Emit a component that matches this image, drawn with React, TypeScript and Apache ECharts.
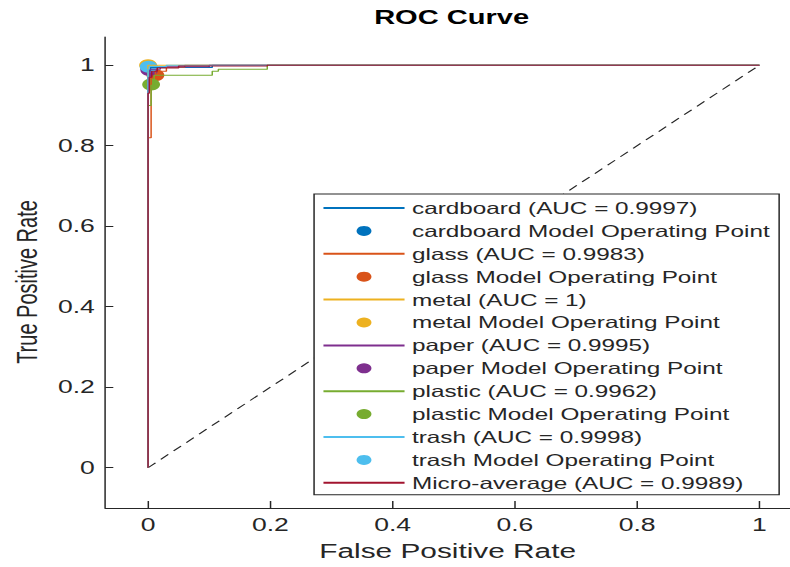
import React, { useEffect, useRef } from "react";
import * as echarts from "echarts";

// ---- data ----
const classNames = ["cardboard", "glass", "metal", "paper", "plastic", "trash"];
const aucValues = ["0.9997", "0.9983", "1", "0.9995", "0.9962", "0.9998"];
const classColors = ["#0072BD", "#D95319", "#EDB120", "#7E2F8E", "#77AC30", "#4DBEEE"];

const cardboardFpr = [0, 0, 0.004, 0.004, 0.105, 0.105, 1];
const cardboardTpr = [0, 0.985, 0.985, 0.994, 0.994, 1, 1];
const glassFpr = [0, 0, 0.005, 0.005, 0.012, 0.012, 0.03, 0.03, 0.06, 0.06, 1];
const glassTpr = [0, 0.82, 0.82, 0.97, 0.97, 0.985, 0.985, 0.995, 0.995, 1, 1];
const metalFpr = [0, 0, 1];
const metalTpr = [0, 1, 1];
const paperFpr = [0, 0, 0.003, 0.003, 0.02, 0.02, 0.1, 0.1, 1];
const paperTpr = [0, 0.97, 0.97, 0.99, 0.99, 0.996, 0.996, 1, 1];
const plasticFpr = [0, 0, 0.005, 0.005, 0.01, 0.01, 0.105, 0.105, 0.115, 0.115, 0.195, 0.195, 1];
const plasticTpr = [0, 0.9, 0.9, 0.95, 0.95, 0.975, 0.975, 0.985, 0.985, 0.99, 0.99, 1, 1];
const trashFpr = [0, 0, 0.002, 0.002, 0.03, 0.03, 1];
const trashTpr = [0, 0.99, 0.99, 0.997, 0.997, 1, 1];
const classFpr = [cardboardFpr, glassFpr, metalFpr, paperFpr, plasticFpr, trashFpr];
const classTpr = [cardboardTpr, glassTpr, metalTpr, paperTpr, plasticTpr, trashTpr];

const microName = "Micro-average";
const microAuc = "0.9989";
const microColor = "#A2142F";
const microFpr = [0, 0, 0.002, 0.002, 0.006, 0.006, 0.015, 0.015, 0.05, 0.05, 0.195, 0.195, 1];
const microTpr = [0, 0.93, 0.93, 0.97, 0.97, 0.985, 0.985, 0.993, 0.993, 0.998, 0.998, 1, 1];

// model operating points (FPR, TPR)
const opFpr = [0.002, 0.012, 0, 0.002, 0.005, 0.001];
const opTpr = [0.993, 0.975, 1, 0.988, 0.952, 0.996];

const chanceFpr = [0, 1];
const chanceTpr = [0, 1];

const xTicks = [0, 0.2, 0.4, 0.6, 0.8, 1];
const yTicks = [0, 0.2, 0.4, 0.6, 0.8, 1];

const titleText = "ROC Curve";
const xName = "False Positive Rate";
const yName = "True Positive Rate";

const STRETCH = 1.4906;
const FONT = "'Liberation Sans', Arial, Helvetica, sans-serif";
const INK = "#262626";

export default function App() {
  const ref = useRef<HTMLDivElement>(null);

  useEffect(() => {
    if (!ref.current) return;
    const chart = echarts.init(ref.current, undefined, { renderer: "svg" });

    const series: any[] = [];
    const legendData: any[] = [];
    const lineLegendItem = (name: string) => ({ name, itemStyle: { opacity: 0 } });

    series.push({
      name: "chance",
      type: "line",
      data: chanceFpr.map((x, i) => [x, chanceTpr[i]]),
      symbol: "none",
      lineStyle: { color: INK, width: 1, type: [7, 5] },
      silent: true,
    });

    classNames.forEach((c, i) => {
      const lineName = `${c} (AUC = ${aucValues[i]})`;
      const ptName = `${c} Model Operating Point`;
      legendData.push(lineLegendItem(lineName), { name: ptName });
      series.push({
        name: lineName,
        type: "line",
        data: classFpr[i].map((x, j) => [x, classTpr[i][j]]),
        symbol: "none",
        lineStyle: { color: classColors[i], width: 1 },
        itemStyle: { color: classColors[i] },
      });
      series.push({
        name: ptName,
        type: "scatter",
        data: [[opFpr[i], opTpr[i]]],
        symbol: "circle",
        symbolSize: 12,
        itemStyle: { color: classColors[i], opacity: 1 },
      });
    });

    const microFull = `${microName} (AUC = ${microAuc})`;
    legendData.push(lineLegendItem(microFull));
    series.push({
      name: microFull,
      type: "line",
      data: microFpr.map((x, j) => [x, microTpr[j]]),
      symbol: "none",
      lineStyle: { color: microColor, width: 1 },
      itemStyle: { color: microColor },
    });

    chart.setOption({
      animation: false,
      backgroundColor: "#ffffff",
      title: {
        text: titleText,
        left: 251,
        top: 7,
        padding: 0,
        textStyle: { fontFamily: FONT, fontSize: 19.5, fontWeight: "bold", color: "#000000" },
      },
      grid: { left: 67.8, right: 0, top: 37, bottom: 59, containLabel: false },
      xAxis: {
        type: "value",
        min: -0.07,
        max: 1.05,
        name: xName,
        nameLocation: "middle",
        nameGap: 33,
        nameTextStyle: { fontFamily: FONT, fontSize: 20, color: INK },
        axisLine: { show: true, onZero: false, lineStyle: { color: INK, width: 1 } },
        axisTick: { show: true, inside: true, length: 7, customValues: xTicks, lineStyle: { color: INK } },
        axisLabel: { customValues: xTicks, margin: 8, fontFamily: FONT, fontSize: 17.8, color: INK },
        splitLine: { show: false },
      },
      yAxis: {
        type: "value",
        min: -0.1,
        max: 1.07,
        name: yName,
        nameLocation: "middle",
        nameGap: 41,
        nameTextStyle: { fontFamily: FONT, fontSize: 20, color: INK, padding: [0, 19, 0, 0] },
        axisLine: { show: true, onZero: false, lineStyle: { color: INK, width: 1 } },
        axisTick: { show: true, inside: true, length: 5.4, customValues: yTicks, lineStyle: { color: INK } },
        axisLabel: { customValues: yTicks, margin: 7, fontFamily: FONT, fontSize: 17.8, color: INK },
        splitLine: { show: false },
      },
      legend: {
        data: legendData,
        orient: "vertical",
        left: 210.7,
        top: 194,
        padding: [6, 4.3, 4, 5.3],
        itemWidth: 54.4,
        itemHeight: 10,
        itemGap: 6.9,
        selectedMode: false,
        backgroundColor: "#ffffff",
        borderColor: INK,
        borderWidth: 1,
        borderRadius: 0,
        textStyle: { fontFamily: FONT, fontSize: 16.3, color: INK, lineHeight: 16, width: 242 },
      },
      series,
    });

    return () => chart.dispose();
  }, []);

  return (
    <div
      ref={ref}
      style={{
        position: "fixed",
        left: 0,
        top: 0,
        width: 530,
        height: 567,
        transform: `scaleX(${STRETCH})`,
        transformOrigin: "0 0",
      }}
    />
  );
}
